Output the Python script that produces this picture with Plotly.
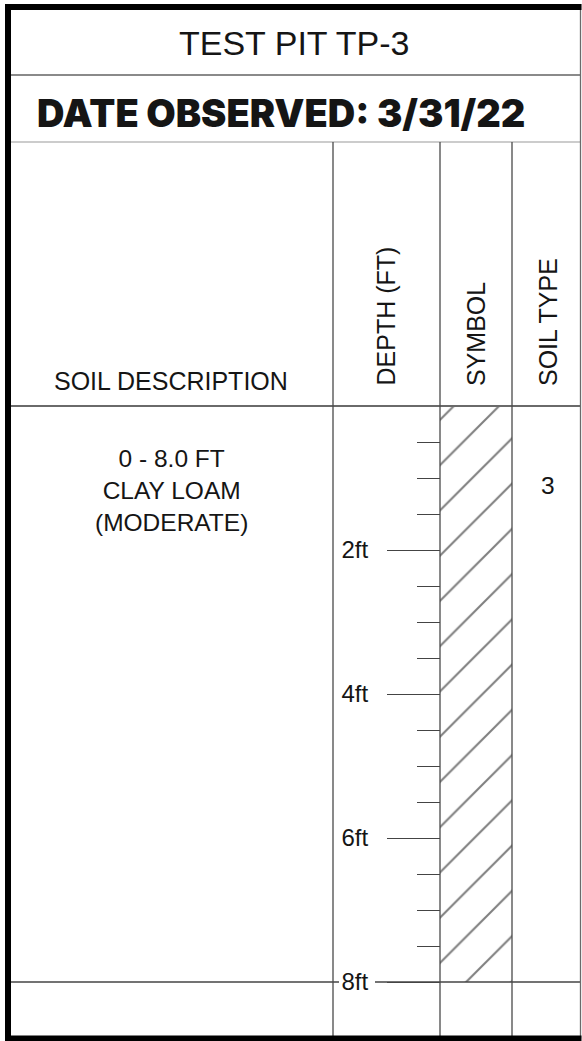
import plotly.graph_objects as go

# ---------------- data ----------------
title_text = "TEST PIT TP-3"
date_text = "DATE OBSERVED: 3/31/22"
column_headers = ["SOIL DESCRIPTION", "DEPTH (FT)", "SYMBOL", "SOIL TYPE"]
layer_top = [0.0]
layer_bottom = [8.0]
layer_desc = [["CLAY LOAM", "(MODERATE)"]]
soil_type = ["3"]
major_ticks = [2, 4, 6, 8]
major_labels = ["2ft", "4ft", "6ft", "8ft"]
minor_ticks = [0.5, 1.0, 1.5, 2.5, 3.0, 3.5, 4.5, 5.0, 5.5, 6.5, 7.0, 7.5]

# ---------------- layout geometry (pixels) ----------------
W, H = 582, 1041
X_LEFT, X_DEPTH, X_SYM, X_TYPE, X_RIGHT = 8, 333, 440, 512, 580.5
Y_TOP, Y_TITLE, Y_DATE, Y_BOTTOM = 7, 75, 142, 1038.5
PX_PER_FT = 72.0
Y_ZERO = 406.0


def py(p):
    return 1 - p / H


depth_range = [(H - Y_ZERO) / PX_PER_FT, -Y_ZERO / PX_PER_FT]

FONT = "Liberation Sans, Arial, sans-serif"
TXT = "#151515"
LINE = "#4a4a4a"

fig = go.Figure()

# hatched symbol column for each layer
fig.add_trace(go.Bar(
    x=[(X_SYM + X_TYPE) / 2] * len(layer_top),
    y=[b - t for t, b in zip(layer_top, layer_bottom)],
    base=layer_top,
    width=X_TYPE - X_SYM,
    marker=dict(color="white", line=dict(width=0),
                pattern=dict(shape="/", size=32, solidity=0.065,
                             fgcolor="#000000", bgcolor="white")),
    hoverinfo="skip", showlegend=False,
))

shapes = []


def hline(x0, x1, y, yref="paper", color=LINE, width=1.3):
    shapes.append(dict(type="line", xref="x", yref=yref, x0=x0, x1=x1, y0=y, y1=y,
                       line=dict(color=color, width=width), layer="above"))


def vline(x, y0, y1, yref="paper", color=LINE, width=1.3):
    shapes.append(dict(type="line", xref="x", yref=yref, x0=x, x1=x, y0=y0, y1=y1,
                       line=dict(color=color, width=width), layer="above"))


hline(X_LEFT, X_RIGHT, py(Y_TITLE), color="#8a8a8a", width=2)
hline(X_LEFT, X_RIGHT, py(Y_DATE), color="#9a9a9a", width=1.2)
hline(X_LEFT, X_RIGHT, layer_top[0], yref="y", color="#6a6a6a", width=2)
# bottom of the layer (line broken around its depth label)
hline(X_LEFT, 339, layer_bottom[-1], yref="y", color="#444", width=1.3)
hline(375, X_RIGHT, layer_bottom[-1], yref="y", color="#444", width=1.3)
for xv in (X_DEPTH, X_SYM, X_TYPE):
    vline(xv, py(Y_DATE), py(Y_BOTTOM))
vline(X_RIGHT, py(4), py(Y_BOTTOM), color="#6a6a6a", width=1.3)
# heavy outer frame
vline(X_LEFT, py(4), py(H), color="black", width=6)
hline(X_LEFT - 3, X_RIGHT + 1, py(Y_TOP), color="black", width=6)
hline(X_LEFT - 3, X_RIGHT + 1, py(Y_BOTTOM), color="black", width=6)

annotations = []


def text(x, y, s, size=24.5, angle=0, yref="paper", family=FONT, weight=None,
         xanchor="center", yanchor="middle"):
    f = dict(family=family, size=size, color=TXT)
    if weight:
        f["weight"] = weight
    annotations.append(dict(x=x, y=y, xref="x", yref=yref, text=s, showarrow=False,
                            font=f, textangle=angle, xanchor=xanchor, yanchor=yanchor))


text((X_LEFT + X_RIGHT) / 2, py(43), title_text, size=34)
text(281, py(113), date_text, size=38, family="Inter, Roboto, Arial Black, sans-serif",
     weight=900)
text(171, py(381), column_headers[0], size=25)
text(385, py(388), column_headers[1], angle=-90, yanchor="bottom", size=25)
text(476, py(388), column_headers[2], angle=-90, yanchor="bottom", size=25)
text(548, py(388), column_headers[3], angle=-90, yanchor="bottom", size=25)

for t, b, d, st in zip(layer_top, layer_bottom, layer_desc, soil_type):
    lines = [f"{t:g} - {b:.1f} FT"] + d
    text(171, t + 1.18, "<br>".join(lines), yref="y", yanchor="middle")
    text(548, t + 1.1, st, yref="y")

fig.update_layout(
    width=W, height=H,
    margin=dict(l=0, r=0, t=0, b=0),
    paper_bgcolor="white", plot_bgcolor="white",
    shapes=shapes, annotations=annotations,
    showlegend=False,
    bargap=0,
    xaxis=dict(range=[0, W], domain=[0, 1], visible=False, fixedrange=True),
    yaxis=dict(
        range=depth_range, domain=[0, 1], anchor="free", position=X_SYM / W,
        side="left", showline=False, showgrid=False, zeroline=False,
        tickmode="array", tickvals=major_ticks, ticktext=major_labels,
        ticks="outside", ticklen=53, tickwidth=1.3, tickcolor="#444",
        ticklabelstandoff=14,
        tickfont=dict(family=FONT, size=24, color=TXT),
        minor=dict(tickmode="array", tickvals=minor_ticks, ticks="outside",
                   ticklen=23, tickwidth=1.3, tickcolor="#444", showgrid=False),
        fixedrange=True,
    ),
)

fig.write_html(
    "out.html",
    config={"displayModeBar": False},
    post_script="document.body.style.margin='0';document.body.style.padding='0';",
)
